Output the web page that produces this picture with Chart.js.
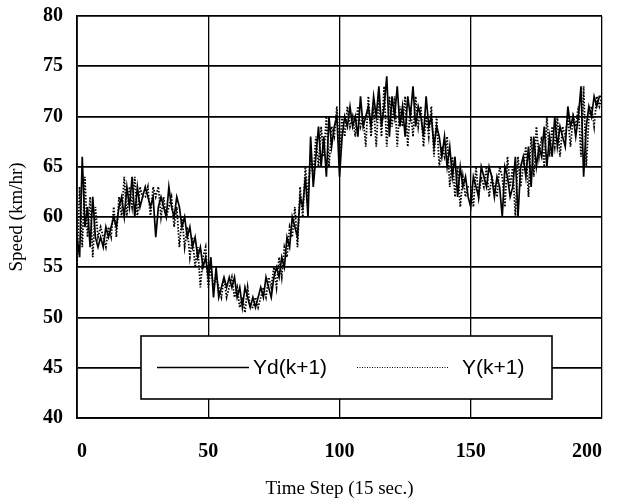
<!DOCTYPE html>
<html>
<head>
<meta charset="utf-8">
<script src="https://cdn.jsdelivr.net/npm/chart.js@4/dist/chart.umd.min.js"></script>
<style>
  html, body { margin: 0; padding: 0; background: #fff; }
  #wrap { width: 618px; height: 504px; }
</style>
</head>
<body>
<div id="wrap"><canvas id="c" width="618" height="504"></canvas></div>
<script>
// Time steps (15 s each)
const steps = Array.from({ length: 201 }, (_, i) => i);

// Desired speed Yd(k+1), km/hr
const ydValues = [
  58, 56, 66, 59, 61, 57, 62, 58, 57, 58,
  57, 59, 58, 59, 60, 59, 61, 62, 60, 63,
  61, 64, 60, 63, 61, 62, 63, 62, 61, 62,
  58, 61, 62, 61, 60, 63, 61, 60, 62, 61,
  59, 60, 58, 59, 57, 58, 56, 57, 55, 56,
  54, 56, 52, 55, 52, 53, 54, 53, 54, 53,
  54, 52, 53, 51, 53, 52, 51, 52, 51, 52,
  53, 52, 54, 53, 52, 54, 55, 54, 56, 55,
  58, 57, 60, 59, 58, 62, 61, 64, 60, 68,
  63, 66, 69, 65, 68, 64, 70, 67, 69, 70,
  64, 68, 70, 69, 71, 69, 70, 68, 72, 69,
  70, 71, 69, 72, 70, 73, 69, 71, 74, 68,
  72, 70, 73, 69, 71, 68, 72, 70, 73, 69,
  71, 70, 68, 72, 69, 70, 67, 69, 68, 66,
  68, 65, 67, 64, 66, 62, 65, 63, 64, 62,
  61, 64, 63, 62, 65, 64, 63, 65, 64, 62,
  64, 63, 60, 65, 64, 62, 63, 66, 60, 65,
  66, 64, 67, 63, 68, 65, 67, 66, 69, 65,
  68, 66, 70, 67, 69, 68, 67, 71, 69, 70,
  68, 70, 73, 64, 69, 71, 70, 72, 71, 72,
  72
];

// Model output Y(k+1), km/hr
const yValues = [
  55, 63, 57, 64, 58, 62, 56, 61, 58, 59,
  58, 57, 59, 58, 61, 58, 62, 60, 64, 60,
  63, 61, 64, 60, 63, 62, 62, 63, 60, 63,
  62, 63, 60, 62, 60, 61, 62, 59, 61, 57,
  60, 57, 59, 56, 58, 55, 57, 53, 56, 57,
  53, 55, 53, 54, 53, 52, 54, 52, 53, 54,
  52, 53, 51, 52, 50.5, 53, 51, 51, 52, 51,
  52, 53, 52, 54, 53, 55, 53, 56, 54, 57,
  56, 59, 58, 61, 57, 63, 60, 65, 62, 66,
  64, 68, 65, 69, 66, 70, 65, 69, 68, 71,
  66, 70, 68, 71, 69, 70, 68, 71, 69, 70,
  67, 72, 68, 71, 67, 72, 68, 73, 67, 72,
  69, 72, 67, 71, 69, 72, 67, 71, 68, 72,
  69, 71, 67, 70, 68, 71, 66, 70, 65, 67,
  66, 68, 63, 66, 62, 65, 61, 64, 62, 63,
  63, 61, 65, 62, 64, 63, 65, 62, 64, 63,
  62, 65, 64, 61, 66, 63, 65, 60, 66, 63,
  65, 67, 62, 68, 64, 69, 66, 68, 65, 70,
  66, 69, 67, 70, 66, 69, 68, 70, 67, 70,
  69, 71, 66, 73, 65, 70, 71, 69, 72, 71,
  72
];

const seriesLabels = ['Yd(k+1)', 'Y(k+1)'];
const xTicks = [0, 50, 100, 150, 200];
const yTicks = [40, 45, 50, 55, 60, 65, 70, 75, 80];

const toPoints = vals => steps.map((s, i) => ({ x: s, y: vals[i] }));

const serif = '"Liberation Serif", "Times New Roman", serif';

// Boxed legend drawn inside the plot area
const boxedLegend = {
  id: 'boxedLegend',
  afterDraw(chart) {
    const { ctx, chartArea } = chart;
    const left = chartArea.left + 64, right = chartArea.left + 475;
    const top = chartArea.top + 320, bottom = chartArea.top + 383;
    const midY = (top + bottom) / 2;
    ctx.save();
    ctx.fillStyle = '#fff';
    ctx.fillRect(left, top, right - left, bottom - top);
    ctx.strokeStyle = '#000';
    ctx.lineWidth = 1.6;
    ctx.strokeRect(left, top, right - left, bottom - top);

    const items = [
      { x0: left + 16, x1: left + 108, tx: left + 112, ds: chart.data.datasets[0] },
      { x0: left + 216, x1: left + 308, tx: left + 321, ds: chart.data.datasets[1] }
    ];
    ctx.font = '21px "Liberation Sans", Arial, sans-serif';
    ctx.textBaseline = 'middle';
    ctx.fillStyle = '#000';
    items.forEach(it => {
      ctx.beginPath();
      const dashed = it.ds.borderDash && it.ds.borderDash.length;
      ctx.lineWidth = dashed ? 1 : 1.3;
      ctx.setLineDash(dashed ? [1, 1.5] : []);
      ctx.moveTo(it.x0, midY);
      ctx.lineTo(it.x1, midY);
      ctx.stroke();
      ctx.setLineDash([]);
      ctx.fillText(it.ds.label, it.tx, midY + 1);
    });
    ctx.restore();
  }
};

new Chart(document.getElementById('c'), {
  type: 'line',
  data: {
    datasets: [
      {
        label: seriesLabels[0],
        data: toPoints(ydValues),
        borderColor: '#000',
        borderWidth: 1.7,
        pointRadius: 0,
        tension: 0,
        order: 1
      },
      {
        label: seriesLabels[1],
        data: toPoints(yValues),
        borderColor: '#000',
        borderWidth: 1.8,
        borderDash: [1.5, 1.6],
        pointRadius: 0,
        tension: 0,
        order: 2
      }
    ]
  },
  options: {
    responsive: false,
    animation: false,
    layout: { padding: { top: 16, right: 16, left: 0, bottom: 0 } },
    plugins: {
      legend: { display: false },
      tooltip: { enabled: false }
    },
    scales: {
      x: {
        type: 'linear',
        min: 0,
        max: 200,
        afterBuildTicks: s => { s.ticks = xTicks.map(v => ({ value: v })); },
        afterFit: s => { s.height = 86; s.paddingLeft = 0; s.paddingRight = 0; },
        grid: { color: '#000', lineWidth: 1.3, drawTicks: false },
        border: { color: '#000', width: 1.8 },
        ticks: {
          color: '#000',
          padding: 22,
          maxRotation: 0,
          align: 'inner',
          font: { family: serif, size: 20, weight: 'bold' }
        },
        title: {
          display: true,
          text: 'Time Step (15 sec.)',
          color: '#000',
          padding: { top: 0, bottom: 4 },
          font: { family: serif, size: 19 }
        }
      },
      y: {
        min: 40,
        max: 80,
        afterBuildTicks: s => { s.ticks = yTicks.map(v => ({ value: v })); },
        afterFit: s => { s.width = 77; s.paddingTop = 0; s.paddingBottom = 0; },
        grid: { color: '#000', lineWidth: 1.8, drawTicks: false },
        border: { color: '#000', width: 1.8 },
        ticks: {
          color: '#000',
          padding: 14,
          font: { family: serif, size: 20, weight: 'bold' }
        },
        title: {
          display: true,
          text: 'Speed (km/hr)',
          color: '#000',
          padding: { top: 6, bottom: 0 },
          font: { family: serif, size: 19 }
        }
      }
    }
  },
  plugins: [boxedLegend]
});
</script>
</body>
</html>
